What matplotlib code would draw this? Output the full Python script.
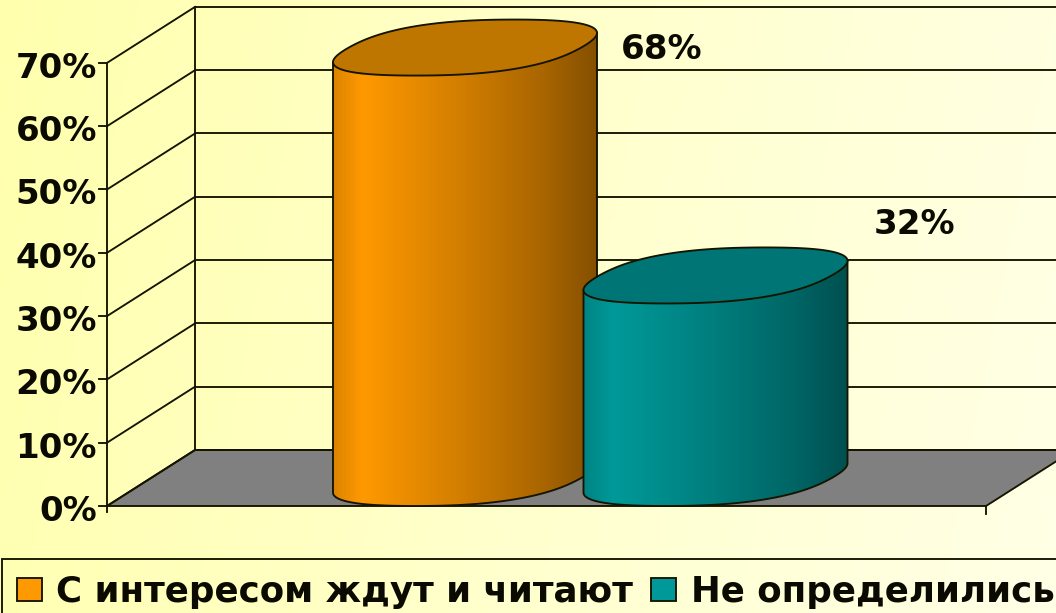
import numpy as np
import matplotlib
matplotlib.use("Agg")
import matplotlib.pyplot as plt
from matplotlib.patches import Polygon, Rectangle
from matplotlib.colors import LinearSegmentedColormap

# Data
categories = ["С интересом ждут и читают", "Не определились"]
values = [68, 32]
value_labels = ["68%", "32%"]
y_ticks = [0, 10, 20, 30, 40, 50, 60, 70]
y_tick_labels = ["0%", "10%", "20%", "30%", "40%", "50%", "60%", "70%"]

# Style
FRONT = ["#FF9900", "#009999"]
TOP = ["#BF7600", "#007575"]
LINE = "#141400"
FONT = "DejaVu Sans"

# Layout (pixels)
W, H = 1056, 613
Y0 = 506          # pixel row of the 0% on the front axis
PX = 6.33         # pixels per percent
X_FRONT, X_BACK = 107, 195
DEPTH = 56
CENTERS = [465, 715.5]
RX_A, RX_B, RY = 122, 52, 28
BULGE = 0.07      # fullness of the projected rim


def vy(px):
    """Pixel row to value units."""
    return (Y0 - px) / PX


fig = plt.figure(figsize=(W / 100, H / 100), dpi=100)
ax = fig.add_axes([0, 0, 1, 1])
ax.set_axis_off()

# background
bg = LinearSegmentedColormap.from_list("bg", ["#FFFFAE", "#FFFFCC", "#FFFFE6"])
gx, gy = np.meshgrid(np.linspace(0, 1, 256), np.linspace(0, 1, 64))
ax.imshow(0.9 * gx + 0.1 * gy, cmap=bg, extent=(0, W, vy(H), vy(0)), aspect="auto",
          origin="upper", zorder=0)

lw = 1.35
d_v = DEPTH / PX

# floor
ax.add_patch(Polygon([(X_FRONT, 0), (X_BACK, d_v), (W + 2, d_v),
                      (W + 2, vy(506 - (W + 2 - 986) * DEPTH / 88)), (986, 0)],
                     closed=True, fc="#808080", ec=LINE, lw=lw, zorder=1))

# walls, gridlines, ticks
ax.plot([X_FRONT, X_FRONT], [y_ticks[0], y_ticks[-1]], color=LINE, lw=lw, zorder=2)
ax.plot([X_BACK, X_BACK], [d_v, y_ticks[-1] + d_v], color=LINE, lw=lw, zorder=2)
for t, lab in zip(y_ticks, y_tick_labels):
    ax.plot([X_FRONT - 8, X_FRONT], [t, t], color=LINE, lw=lw, zorder=2)
    ax.plot([X_FRONT, X_BACK], [t, t + d_v], color=LINE, lw=lw, zorder=2)
    ax.plot([X_BACK, W + 2], [t + d_v, t + d_v], color=LINE, lw=lw, zorder=2)
    ax.text(97, t - 0.3, lab, ha="right", va="center_baseline", fontsize=24.5,
            fontweight="bold", family=FONT, color="#0A0A00", zorder=6)
ax.plot([986, 986], [0, -8 / PX], color=LINE, lw=lw, zorder=2)
ax.plot([X_FRONT, X_FRONT], [0, -6 / PX], color=LINE, lw=lw, zorder=2)

# cylinders
t = np.linspace(0, 2 * np.pi, 241)
base_v = vy(Y0 - RY)
stops = [(0.0, 0.86), (0.11, 1.0), (0.45, 0.84), (0.8, 0.66), (1.0, 0.52)]
full = 1 + BULGE * np.sin(2 * t) ** 2
cs = np.cos(t) * full
sn = np.sin(t) * full
sn = sn / sn.max()
for i, (v, cx) in enumerate(zip(values, CENTERS)):
    z = 3 + i * 0.1
    rgb = np.array(matplotlib.colors.to_rgb(FRONT[i]))
    ex = RX_A * cs + RX_B * sn
    ey = RY * sn / PX
    ex = ex * 132 / ex.max()
    rx = ex.max()
    left = int(np.argmin(ex)); right = int(np.argmax(ex))
    order = np.r_[np.arange(left, 241), np.arange(1, right + 1)]
    low_x = cx + ex[order]; low_y = base_v + ey[order]
    body = list(zip(low_x, low_y)) + [(cx + ex[right], base_v + v + ey[right]),
                                      (cx + ex[left], base_v + v + ey[left])]
    poly = Polygon(body, closed=True, fc="none", ec=LINE, lw=lw, zorder=z + 0.02)
    ax.add_patch(poly)
    cm = LinearSegmentedColormap.from_list(
        f"c{i}", [(p, tuple(rgb * s)) for p, s in stops])
    im = ax.imshow(np.linspace(0, 1, 256)[None, :], cmap=cm,
                   extent=(cx - rx, cx + rx, base_v - RY / PX, base_v + v + RY / PX),
                   aspect="auto", zorder=z)
    im.set_clip_path(Polygon(body, closed=True, transform=ax.transData))
    ax.add_patch(Polygon(list(zip(cx + ex, base_v + v + ey)), closed=True,
                         fc=TOP[i], ec=LINE, lw=lw, zorder=z + 0.04))

# value labels
for lab, tx, ty in zip(value_labels, [662, 915], [46, 221]):
    ax.text(tx, vy(ty), lab, ha="center", va="center_baseline", fontsize=24.5,
            fontweight="bold", family=FONT, color="#0A0A00", zorder=6)

# legend
ax.add_patch(Rectangle((2, vy(H + 5)), W + 5, (H + 5 - 559) / PX, fc="none", ec=LINE,
                       lw=lw, zorder=5))
for lab, col, sx, tx in zip(categories, FRONT, [17, 651], [56, 691]):
    ax.add_patch(Rectangle((sx, vy(601)), 25, 23 / PX, fc=col, ec=LINE, lw=lw, zorder=6))
    ax.text(tx, vy(602), lab, ha="left", va="baseline", fontsize=25.7,
            fontweight="bold", family=FONT, color="#0A0A00", zorder=6)

ax.set_xlim(0, W)
ax.set_ylim(vy(H), vy(0))
fig.savefig("out.png", dpi=100)
